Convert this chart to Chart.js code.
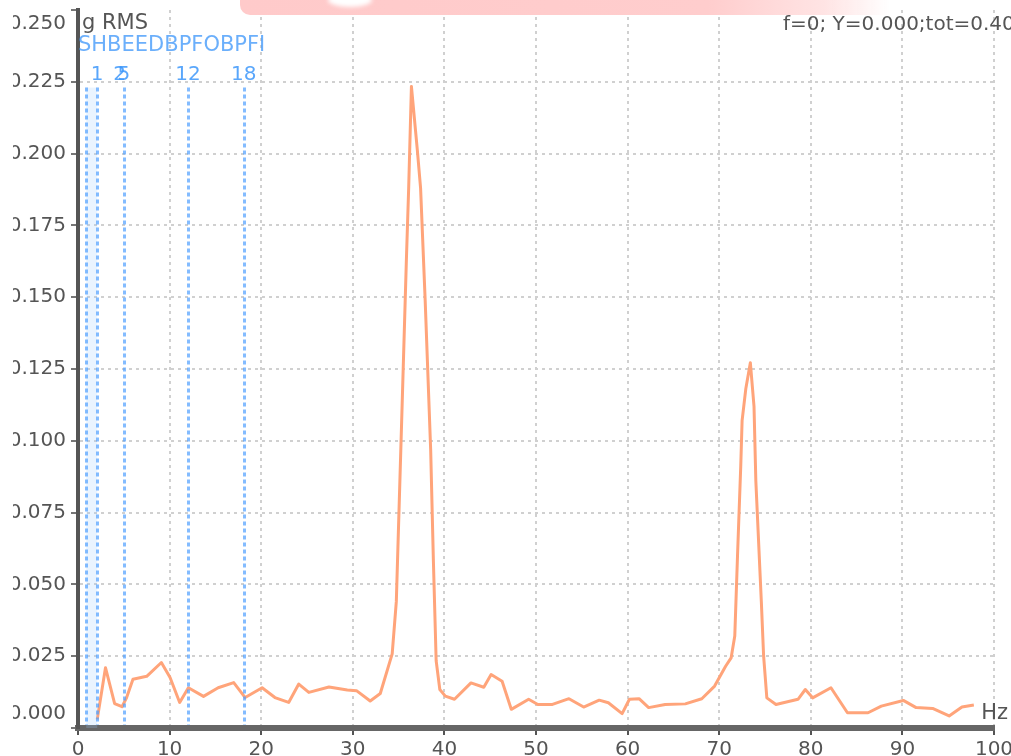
<!DOCTYPE html>
<html>
<head>
<meta charset="utf-8">
<script src="https://cdn.jsdelivr.net/npm/chart.js@4/dist/chart.umd.min.js"></script>
<style>
  html, body { margin: 0; padding: 0; background: #fff; overflow: hidden; }
  #wrap { position: relative; width: 1011px; height: 756px; }
  #c { position: absolute; left: 0; top: 0; clip-path: inset(0 0 0 13px); }
  .band {
    position: absolute; left: 240px; top: 0; width: 650px; height: 15px; z-index: 2;
    background: linear-gradient(to right, #ffcaca 0%, #ffcdcd 72%, #ffe4e4 90%, rgba(255,255,255,0) 100%);
    border-bottom-left-radius: 10px;
  }
  .band::after {
    content: ''; position: absolute; left: 88px; top: -7px; width: 44px; height: 14px;
    border-radius: 50%; background: #fff; filter: blur(2px);
  }
</style>
</head>
<body>
<div id="wrap">
  <canvas id="c" width="1011" height="756"></canvas>
  <div class="band"></div>
</div>
<script>
// Spectrum: frequency (Hz) and amplitude (g RMS)
const freqHz = [
  2.1, 3.0, 4.0, 4.8, 5.3, 6.0, 7.5, 9.1, 10.05, 11.1,
  12.05, 13.7, 15.3, 17.0, 18.25, 20.1, 21.5, 23.0, 24.1, 25.2,
  27.4, 29.4, 30.4, 31.9, 33.0, 34.3, 34.75, 35.4, 35.85, 36.1,
  36.4, 37.05, 37.4, 37.9, 38.5, 38.8, 39.1, 39.5, 40.1, 41.1,
  42.9, 44.3, 45.1, 46.3, 47.3, 49.2, 50.2, 51.8, 53.6, 55.2,
  56.9, 57.9, 59.4, 60.2, 61.25, 62.3, 64.1, 66.3, 68.1, 69.5,
  70.7, 71.3, 71.7, 72.0, 72.35, 72.5, 72.9, 73.4, 73.8, 74.0,
  74.6, 74.85, 75.2, 76.2, 78.6, 79.4, 80.2, 82.2, 84.0, 86.25,
  87.7, 90.1, 91.5, 93.3, 95.1, 96.5, 97.8
];
const rmsG = [
  0.003, 0.021, 0.0085, 0.0074, 0.0105, 0.017, 0.018, 0.0228, 0.0176, 0.0089,
  0.014, 0.011, 0.014, 0.0158, 0.0106, 0.014, 0.0106, 0.0089, 0.0153, 0.0124,
  0.0143, 0.0132, 0.013, 0.0094, 0.012, 0.0258, 0.044, 0.114, 0.163, 0.188,
  0.2234, 0.201, 0.188, 0.149, 0.097, 0.058, 0.0234, 0.0134, 0.0111, 0.0100,
  0.0157, 0.0142, 0.0186, 0.0163, 0.0065, 0.0100, 0.0082, 0.0082, 0.0102, 0.0073,
  0.0097, 0.0088, 0.0050, 0.0100, 0.0102, 0.0071, 0.0082, 0.0084, 0.0102, 0.0146,
  0.0215, 0.0244, 0.032, 0.060, 0.091, 0.107, 0.118, 0.1272, 0.112, 0.086,
  0.044, 0.025, 0.0105, 0.0082, 0.0100, 0.0134, 0.0105, 0.014, 0.0053, 0.0053,
  0.0076, 0.0096, 0.0071, 0.0068, 0.0042, 0.0073, 0.0080
];

// Axis tick labels
const xTickLabels = ['0', '10', '20', '30', '40', '50', '60', '70', '80', '90', '100'];
const yTickLabels = ['0.000', '0.025', '0.050', '0.075', '0.100', '0.125', '0.150', '0.175', '0.200', '0.225', '0.250'];

// Fault-frequency cursors
const markerHz = [0.9, 2.1, 5.0, 12.0, 18.1];
const markerLabelHz = [2.1, 4.55, 5.0, 12.0, 18.1];
const markerLabelText = ['1', '2', '5', '12', '18'];
const markerHeader = 'SHBEEDBPFOBPFI';
const markerTopG = 0.223;

const unitLabel = 'g RMS';
const xUnit = 'Hz';
const cursorReadout = 'f=0; Y=0.000;tot=0.400';

const FONT = "'DejaVu Sans', sans-serif";
const GRID = '#d0d0d0';

const overlay = {
  id: 'overlay',
  afterDatasetsDraw(chart) {
    const { ctx, chartArea, scales: { x, y } } = chart;
    const yTop = y.getPixelForValue(markerTopG);
    ctx.save();
    // shaded span between the first two cursors
    const xa = x.getPixelForValue(markerHz[0]);
    const xb = x.getPixelForValue(markerHz[1]);
    ctx.fillStyle = 'rgba(160,205,255,0.22)';
    ctx.fillRect(xa, yTop, xb - xa, chartArea.bottom - yTop);
    // cursor lines
    ctx.strokeStyle = 'rgba(80,160,255,0.7)';
    ctx.lineWidth = 3;
    ctx.setLineDash([4, 3]);
    markerHz.forEach(f => {
      const px = Math.round(x.getPixelForValue(f)) + 0.5;
      ctx.beginPath();
      ctx.moveTo(px, yTop);
      ctx.lineTo(px, chartArea.bottom - 3);
      ctx.stroke();
    });
    ctx.setLineDash([]);
    // cursor numbers
    ctx.fillStyle = 'rgba(60,150,250,0.85)';
    ctx.font = `20px ${FONT}`;
    ctx.textAlign = 'center';
    ctx.textBaseline = 'middle';
    markerLabelHz.forEach((f, i) => {
      ctx.fillText(markerLabelText[i], x.getPixelForValue(f), 75);
    });
    // overlapping fault names
    ctx.textAlign = 'left';
    ctx.font = `21px ${FONT}`;
    ctx.fillStyle = 'rgba(70,155,250,0.8)';
    ctx.fillText(markerHeader, chartArea.left, 46);
    ctx.restore();
  },
  afterDraw(chart) {
    const { ctx, chartArea } = chart;
    ctx.save();
    ctx.fillStyle = '#555';
    ctx.textBaseline = 'middle';
    ctx.textAlign = 'left';
    ctx.font = `21px ${FONT}`;
    ctx.fillText(unitLabel, chartArea.left + 4, 24);
    ctx.font = `20px ${FONT}`;
    ctx.fillText(cursorReadout, 783, 25);
    ctx.textAlign = 'right';
    ctx.font = `21px ${FONT}`;
    ctx.fillText(xUnit, 1008, chartArea.bottom - 14);
    ctx.restore();
  }
};

new Chart(document.getElementById('c'), {
  type: 'line',
  data: {
    datasets: [{
      data: freqHz.map((f, i) => ({ x: f, y: rmsG[i] })),
      borderColor: '#ffa47a',
      borderWidth: 3,
      pointRadius: 0,
      tension: 0,
      borderJoinStyle: 'round',
      fill: false
    }]
  },
  options: {
    responsive: false,
    animation: false,
    devicePixelRatio: 1,
    layout: { padding: { left: 0, right: 17, top: 10, bottom: 0 } },
    plugins: { legend: { display: false }, tooltip: { enabled: false } },
    scales: {
      x: {
        type: 'linear', min: 0, max: 100,
        ticks: {
          stepSize: 10, autoSkip: false, maxRotation: 0, padding: 3,
          color: '#555', font: { family: FONT, size: 20 },
          callback: (v, i) => xTickLabels[i]
        },
        grid: {
          color: c => (c.tick && c.tick.value === 0) ? 'rgba(0,0,0,0)' : GRID,
          lineWidth: 2, tickColor: '#555', tickWidth: 2, tickLength: 7
        },
        border: { display: true, color: '#666', width: 6, dash: [3, 4] },
        afterFit(s) { s.height = 28; s.paddingLeft = 0; s.paddingRight = 0; }
      },
      y: {
        min: 0, max: 0.25,
        ticks: {
          stepSize: 0.025, padding: 5, color: '#555', font: { family: FONT, size: 20, lineHeight: 1.4 },
          callback: (v, i, arr) => {
            const t = yTickLabels[i];
            if (i === 0) return [t, ''];
            if (i === arr.length - 1) return ['', t];
            return t;
          }
        },
        grid: {
          color: c => (c.tick && (c.tick.value > 0.249 || c.tick.value === 0)) ? 'rgba(0,0,0,0)' : GRID,
          lineWidth: 2, tickColor: '#777', tickWidth: 2, tickLength: 7
        },
        border: { display: true, color: '#555', width: 4, dash: [3, 4] },
        afterFit(s) { s.width = 78; s.paddingTop = 0; s.paddingBottom = 0; }
      }
    }
  },
  plugins: [overlay]
});
</script>
</body>
</html>
